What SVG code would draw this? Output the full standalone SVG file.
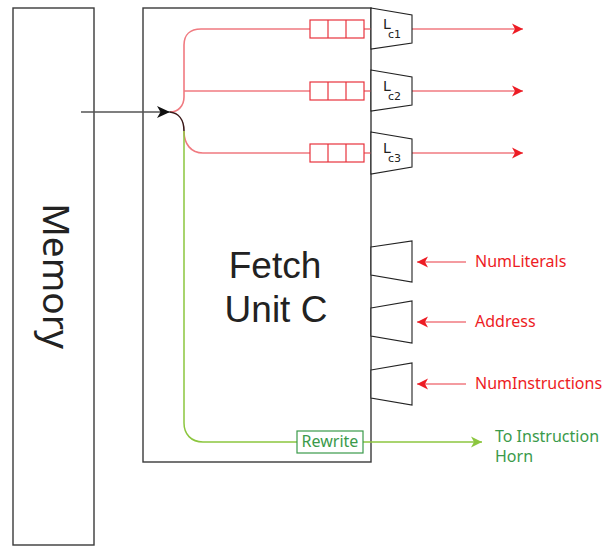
<svg xmlns="http://www.w3.org/2000/svg" width="607" height="546" viewBox="0 0 607 546">
<style>
.box{fill:#fff;stroke:#3a3a3a;stroke-width:1.4}
.trap{fill:#fff;stroke:#222;stroke-width:1.1}
.q{fill:#fff;stroke:#e8323c;stroke-width:1.2}
.red{fill:none;stroke:#f07a80;stroke-width:1.6}
.grn{fill:none;stroke:#8cc63f;stroke-width:1.5}
.big{font-family:"Noto Sans","Open Sans",sans-serif;font-size:37px;fill:#222}
.big2{font-family:"Liberation Sans",Arial,sans-serif;font-size:37px;fill:#222}
.lab{font-family:"Noto Sans","Open Sans",sans-serif;font-size:16px}
.rl{fill:#ed1c24}
.gl{fill:#3a9a4a}
.L{font-family:"DejaVu Sans",sans-serif;fill:#222}
</style>
<defs>
<marker id="ar" markerUnits="userSpaceOnUse" markerWidth="12" markerHeight="12" refX="11" refY="6" orient="auto" viewBox="0 0 12 12">
<path d="M0,0.5 L11,6 L0,11.5 L3,6 z" fill="#ed1c24"/>
</marker>
<marker id="ag" markerUnits="userSpaceOnUse" markerWidth="12" markerHeight="12" refX="11" refY="6" orient="auto" viewBox="0 0 12 12">
<path d="M0,0.5 L11,6 L0,11.5 L3,6 z" fill="#8cc63f"/>
</marker>
<marker id="ak" markerUnits="userSpaceOnUse" markerWidth="14" markerHeight="14" refX="13" refY="7" orient="auto" viewBox="0 0 14 14">
<path d="M0,1 L13,7 L0,13 L3.5,7 z" fill="#111"/>
</marker>
</defs>

<g id="memory">
<rect class="box" x="13" y="8" width="81" height="537"/>
<text class="big" transform="translate(43,276) rotate(90)" text-anchor="middle">Memory</text>
</g>

<g id="fetch-unit">
<rect class="box" x="143" y="8" width="228" height="454"/>
<text class="big2" x="275" y="278" text-anchor="middle">Fetch</text>
<text class="big2" x="276" y="322" text-anchor="middle">Unit C</text>
</g>

<g id="connectors">
<line x1="81" y1="112" x2="170" y2="112" stroke="#555" stroke-width="1.3" marker-end="url(#ak)"/>
<path class="red" d="M170,112 C178,112 184,106 184,97 L184,45 C184,35 190,29 201,29 L310,29"/>
<path class="red" d="M184,91 L310,91"/>
<path d="M170,112 C178,113 184,119 184,131" fill="none" stroke="#3a1818" stroke-width="1.6"/>
<path class="red" d="M184,131 C184,144 191,153 203,153 L310,153"/>
<path class="grn" d="M184,131 L184,423 C184,434 191,442 203,442 L297,442"/>
<path class="red" d="M364,29 L371,29"/>
<path class="red" d="M364,91 L371,91"/>
<path class="red" d="M364,153 L371,153"/>
<line class="red" x1="412" y1="29" x2="523" y2="29" marker-end="url(#ar)"/>
<line class="red" x1="412" y1="91" x2="523" y2="91" marker-end="url(#ar)"/>
<line class="red" x1="412" y1="153" x2="523" y2="153" marker-end="url(#ar)"/>
<line class="red" x1="466" y1="262" x2="417" y2="262" marker-end="url(#ar)"/>
<line class="red" x1="466" y1="322" x2="417" y2="322" marker-end="url(#ar)"/>
<line class="red" x1="466" y1="384" x2="417" y2="384" marker-end="url(#ar)"/>
<line class="grn" x1="363" y1="442" x2="482" y2="442" marker-end="url(#ag)"/>
</g>

<g id="queue-1">
<rect class="q" x="310" y="20" width="54" height="18"/>
<line class="q" x1="328" y1="20" x2="328" y2="38"/>
<line class="q" x1="346" y1="20" x2="346" y2="38"/>
</g>
<g id="queue-2">
<rect class="q" x="310" y="82" width="54" height="18"/>
<line class="q" x1="328" y1="82" x2="328" y2="100"/>
<line class="q" x1="346" y1="82" x2="346" y2="100"/>
</g>
<g id="queue-3">
<rect class="q" x="310" y="144" width="54" height="18"/>
<line class="q" x1="328" y1="144" x2="328" y2="162"/>
<line class="q" x1="346" y1="144" x2="346" y2="162"/>
</g>

<g id="lc1">
<path class="trap" d="M371,8 L412,15 L412,43 L371,49 z"/>
<text class="L" x="383" y="29" font-size="14">L</text>
<text class="L" x="388" y="38" font-size="11">c1</text>
</g>
<g id="lc2">
<path class="trap" d="M371,70 L412,77 L412,105 L371,111 z"/>
<text class="L" x="383" y="91" font-size="14">L</text>
<text class="L" x="388" y="100" font-size="11">c2</text>
</g>
<g id="lc3">
<path class="trap" d="M371,132 L412,139 L412,167 L371,174 z"/>
<text class="L" x="383" y="153" font-size="14">L</text>
<text class="L" x="388" y="162" font-size="11">c3</text>
</g>

<g id="in-numliterals">
<path class="trap" d="M371,247 L412,241 L412,282 L371,275 z"/>
<text class="lab rl" x="475" y="267">NumLiterals</text>
</g>
<g id="in-address">
<path class="trap" d="M371,308 L412,301 L412,343 L371,336 z"/>
<text class="lab rl" x="475" y="327">Address</text>
</g>
<g id="in-numinstructions">
<path class="trap" d="M371,370 L412,363 L412,405 L371,398 z"/>
<text class="lab rl" x="475" y="389">NumInstructions</text>
</g>

<g id="rewrite">
<rect x="297" y="431" width="66" height="22" fill="#fff" stroke="#3a9a4a" stroke-width="1.2"/>
<text class="lab gl" x="330" y="447" text-anchor="middle" font-size="15.5">Rewrite</text>
</g>

<g id="to-instruction-horn">
<text class="lab gl" x="495" y="442">To Instruction</text>
<text class="lab gl" x="495" y="462">Horn</text>
</g>
</svg>
